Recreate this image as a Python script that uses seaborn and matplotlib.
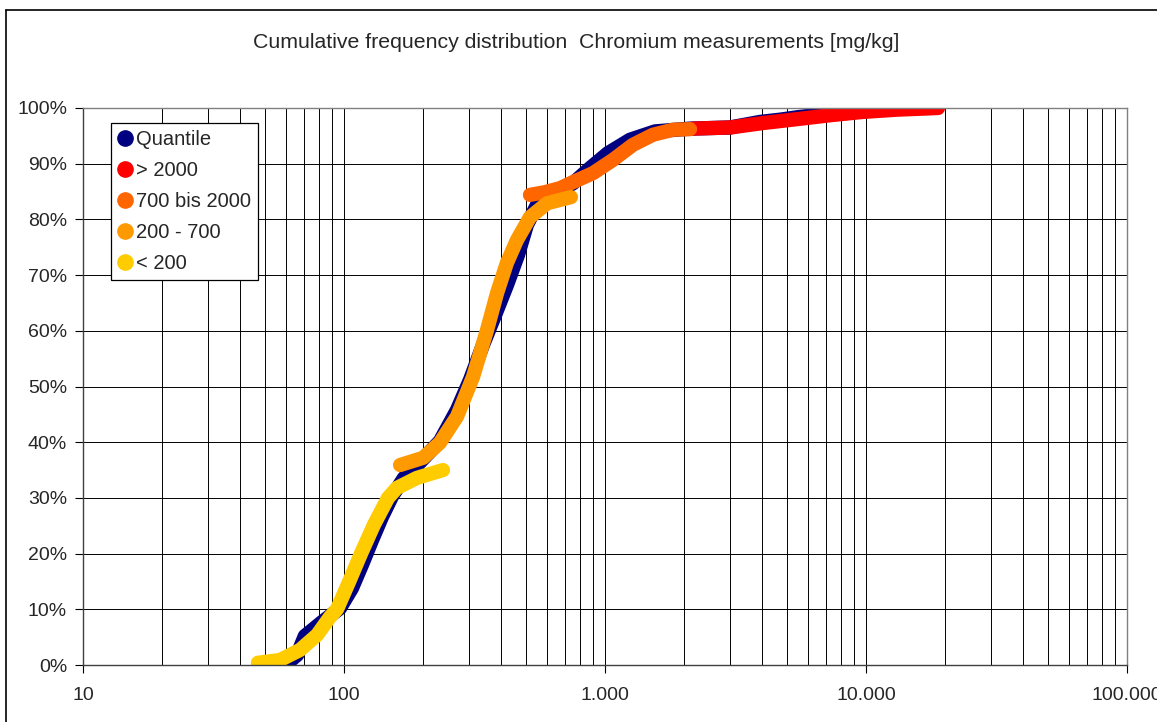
import numpy as np
import pandas as pd
import matplotlib
matplotlib.use("Agg")
import matplotlib.pyplot as plt
import seaborn as sns
from matplotlib.lines import Line2D
from matplotlib.ticker import FixedLocator, FixedFormatter, LogLocator, NullFormatter

# ---------------- data ----------------
quantile_x = [59.5, 66.1, 70.8, 82.3, 96.5, 107.3, 117.2, 128.0, 139.8, 152.8, 169.9, 195.4,
              233.2, 271, 304, 341, 379, 421, 464, 502, 549, 632, 754, 876, 1027, 1247,
              1555, 2117, 3013, 3926, 4682, 5585, 6665]
quantile_y = [0.0, 1.8, 5.2, 7.7, 10.2, 13.8, 18.0, 22.4, 26.6, 30.3, 33.6, 36.4,
              40.2, 45.8, 51.2, 57.5, 62.8, 68.2, 73.6, 79.0, 82.6, 84.4, 86.5, 89.2, 91.9, 94.3,
              95.8, 96.3, 96.5, 97.5, 97.9, 98.4, 98.8]

gt2000_x = [2173, 3013, 4030, 5440, 7280, 9740, 13150, 18880]
gt2000_y = [96.3, 96.5, 97.3, 98.0, 98.7, 99.3, 99.7, 100.0]

s700_2000_x = [516, 590, 672, 754, 899, 1074, 1280, 1527, 1822, 2117]
s700_2000_y = [84.4, 84.9, 85.6, 86.7, 88.3, 90.7, 93.4, 95.2, 96.1, 96.2]

s200_700_x = [164, 201, 233, 271, 312, 353, 386, 421, 460, 516, 600, 740]
s200_700_y = [35.9, 37.2, 39.9, 44.6, 51.7, 60.1, 66.8, 72.2, 76.3, 80.4, 82.9, 84.0]

lt200_x = [46.8, 56.9, 67.8, 78.9, 88.3, 94.0, 104.5, 116.2, 130.3, 147.5, 159.6, 190.4, 239.4]
lt200_y = [0.4, 0.9, 2.7, 5.4, 8.6, 10.0, 14.9, 20.0, 25.2, 30.0, 31.8, 33.6, 35.0]

series_names = ["Quantile", "> 2000", "700 bis 2000", "200 - 700", "< 200"]
series_colors = ["#000080", "#FF0000", "#FF6600", "#FF9900", "#FFCC00"]

xtick_values = [10, 100, 1000, 10000, 100000]
xtick_labels = ["10", "100", "1.000", "10.000", "100.000"]
ytick_values = list(range(0, 101, 10))
ytick_labels = [f"{v}%" for v in ytick_values]

title = "Cumulative frequency distribution  Chromium measurements [mg/kg]"

# ---------------- figure ----------------
sns.set_style("white")
plt.rcParams["font.family"] = ["Liberation Sans", "DejaVu Sans"]

W, H = 1157, 722
fig = plt.figure(figsize=(W / 100, H / 100), dpi=100)
ax = fig.add_axes([83 / W, 1 - 665 / H, 1044 / W, 557 / H])

all_series = [(quantile_x, quantile_y), (gt2000_x, gt2000_y), (s700_2000_x, s700_2000_y),
              (s200_700_x, s200_700_y), (lt200_x, lt200_y)]
for (xs, ys), name, col in zip(all_series, series_names, series_colors):
    df = pd.DataFrame({"x": xs, "y": ys})
    sns.lineplot(data=df, x="x", y="y", ax=ax, color=col, linewidth=10.3, sort=False,
                 estimator=None, solid_capstyle="round", solid_joinstyle="round", legend=False)

ax.set_xscale("log")
ax.set_xlim(10, 100000)
ax.set_ylim(0, 100)
ax.xaxis.set_major_locator(FixedLocator(xtick_values))
ax.xaxis.set_major_formatter(FixedFormatter(xtick_labels))
ax.xaxis.set_minor_locator(LogLocator(base=10, subs=range(2, 10)))
ax.xaxis.set_minor_formatter(NullFormatter())
ax.yaxis.set_major_locator(FixedLocator(ytick_values))
ax.yaxis.set_major_formatter(FixedFormatter(ytick_labels))

ax.set_axisbelow(True)
ax.grid(True, which="both", axis="x", color="black", linewidth=0.7)
ax.grid(True, which="major", axis="y", color="black", linewidth=0.7)
ax.set_xlabel("")
ax.set_ylabel("")

ax.tick_params(axis="x", which="major", direction="out", length=6, width=0.8,
               pad=10, labelsize=14, bottom=True, color="black")
ax.tick_params(axis="x", which="minor", length=0, bottom=False)
ax.tick_params(axis="y", which="major", direction="out", length=6, width=0.8,
               pad=5.5, labelsize=14, left=True, color="black")

for side in ["top", "right"]:
    ax.spines[side].set_color("#808080")
    ax.spines[side].set_linewidth(1.0)
for side in ["left", "bottom"]:
    ax.spines[side].set_color("#404040")
    ax.spines[side].set_linewidth(1.0)

handles = [Line2D([], [], linestyle="none", marker="o", markersize=11,
                  markerfacecolor=c, markeredgecolor=c) for c in series_colors]
leg = ax.legend(handles, series_names, loc="upper left",
                bbox_to_anchor=((111 - 83) / 1044, (665 - 123) / 557),
                borderaxespad=0, frameon=True, fancybox=False, edgecolor="black",
                fontsize=14.5, handlelength=0.7, handletextpad=0.2, labelspacing=0.6,
                borderpad=0.35, framealpha=1)
leg.get_frame().set_linewidth(0.9)

fig.text(576 / W, 1 - 43 / H, title, ha="center", va="center", fontsize=15.3)

# outer chart frame (left and top visible)
fig.add_artist(Line2D([6 / W, 6 / W], [0, 1 - 10 / H], transform=fig.transFigure,
                      color="black", linewidth=1.2))
fig.add_artist(Line2D([6 / W, 1], [1 - 10 / H, 1 - 10 / H], transform=fig.transFigure,
                      color="black", linewidth=1.2))

fig.savefig("out.png", dpi=100)
